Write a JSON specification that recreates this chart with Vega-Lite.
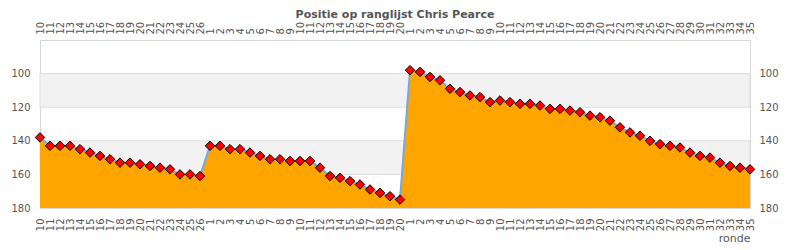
{
  "$schema": "https://vega.github.io/schema/vega-lite/v6.json",
  "width": 710,
  "height": 168,
  "autosize": "none",
  "padding": {"left": 40, "top": 40, "right": 40, "bottom": 42},
  "background": "white",
  "config": {
    "view": {"stroke": "#d8d8d8", "strokeWidth": 1},
    "font": "DejaVu Sans",
    "axis": {"labelFont": "DejaVu Sans", "labelColor": "#555555", "titleColor": "#555555", "domain": false, "ticks": false, "grid": false}
  },
  "title": {"text": "Positie op ranglijst Chris Pearce", "fontSize": 11, "fontWeight": "bold", "color": "#555555", "font": "DejaVu Sans", "offset": 1, "anchor": "middle"},
  "datasets": {
    "ranks": [
      {"key": "a10", "positie": 138}, {"key": "a11", "positie": 143}, {"key": "a12", "positie": 143}, {"key": "a13", "positie": 143},
      {"key": "a14", "positie": 145}, {"key": "a15", "positie": 147}, {"key": "a16", "positie": 149}, {"key": "a17", "positie": 151},
      {"key": "a18", "positie": 153}, {"key": "a19", "positie": 153}, {"key": "a20", "positie": 154}, {"key": "a21", "positie": 155},
      {"key": "a22", "positie": 156}, {"key": "a23", "positie": 157}, {"key": "a24", "positie": 160}, {"key": "a25", "positie": 160},
      {"key": "a26", "positie": 161},
      {"key": "b1", "positie": 143}, {"key": "b2", "positie": 143}, {"key": "b3", "positie": 145}, {"key": "b4", "positie": 145},
      {"key": "b5", "positie": 147}, {"key": "b6", "positie": 149}, {"key": "b7", "positie": 151}, {"key": "b8", "positie": 151},
      {"key": "b9", "positie": 152}, {"key": "b10", "positie": 152}, {"key": "b11", "positie": 152}, {"key": "b12", "positie": 156},
      {"key": "b13", "positie": 161}, {"key": "b14", "positie": 162}, {"key": "b15", "positie": 164}, {"key": "b16", "positie": 166},
      {"key": "b17", "positie": 169}, {"key": "b18", "positie": 171}, {"key": "b19", "positie": 173}, {"key": "b20", "positie": 175},
      {"key": "c1", "positie": 98}, {"key": "c2", "positie": 99}, {"key": "c3", "positie": 102}, {"key": "c4", "positie": 104},
      {"key": "c5", "positie": 109}, {"key": "c6", "positie": 111}, {"key": "c7", "positie": 113}, {"key": "c8", "positie": 114},
      {"key": "c9", "positie": 117}, {"key": "c10", "positie": 116}, {"key": "c11", "positie": 117}, {"key": "c12", "positie": 118},
      {"key": "c13", "positie": 118}, {"key": "c14", "positie": 119}, {"key": "c15", "positie": 121}, {"key": "c16", "positie": 121},
      {"key": "c17", "positie": 122}, {"key": "c18", "positie": 123}, {"key": "c19", "positie": 125}, {"key": "c20", "positie": 126},
      {"key": "c21", "positie": 128}, {"key": "c22", "positie": 132}, {"key": "c23", "positie": 135}, {"key": "c24", "positie": 137},
      {"key": "c25", "positie": 140}, {"key": "c26", "positie": 142}, {"key": "c27", "positie": 143}, {"key": "c28", "positie": 144},
      {"key": "c29", "positie": 147}, {"key": "c30", "positie": 149}, {"key": "c31", "positie": 150}, {"key": "c32", "positie": 153},
      {"key": "c33", "positie": 155}, {"key": "c34", "positie": 156}, {"key": "c35", "positie": 157}
    ],
    "bands": [{"van": 100, "tot": 120}, {"van": 140, "tot": 160}]
  },
  "resolve": {"axis": {"x": "independent", "y": "independent"}},
  "layer": [
    {
      "data": {"name": "bands"},
      "mark": {"type": "rect", "fill": "#f2f2f2", "stroke": "#dddddd", "strokeWidth": 1},
      "encoding": {
        "y": {"field": "van", "type": "quantitative", "scale": {"domain": [80, 180], "reverse": true, "nice": false, "zero": false},
              "axis": {"orient": "left", "values": [100, 120, 140, 160, 180], "labelFontSize": 10, "labelPadding": 10, "title": null}},
        "y2": {"field": "tot"}
      }
    },
    {
      "data": {"name": "ranks"},
      "mark": {"type": "area", "color": "#FFA500", "opacity": 1},
      "encoding": {
        "x": {"field": "key", "type": "ordinal", "sort": null, "scale": {"type": "point", "padding": 0},
              "axis": {"orient": "bottom", "labelAngle": -90, "labelFontSize": 10, "labelPadding": 10,
                       "labelExpr": "slice(datum.label, 1)", "title": "ronde", "titleFontSize": 11, "titleFontWeight": "normal",
                       "titleAnchor": "end", "titlePadding": 2}},
        "y": {"field": "positie", "type": "quantitative",
              "axis": {"orient": "right", "values": [100, 120, 140, 160, 180], "labelFontSize": 10, "labelPadding": 9, "title": null}},
        "y2": {"datum": 180}
      }
    },
    {
      "data": {"name": "ranks"},
      "mark": {"type": "line", "color": "#74a9e0", "strokeWidth": 2},
      "encoding": {
        "x": {"field": "key", "type": "ordinal", "sort": null,
              "axis": {"orient": "top", "labelAngle": -90, "labelFontSize": 10, "labelPadding": 6,
                       "labelExpr": "slice(datum.label, 1)", "title": null}},
        "y": {"field": "positie", "type": "quantitative", "axis": null}
      }
    },
    {
      "data": {"name": "ranks"},
      "mark": {"type": "point", "shape": "diamond", "filled": true, "fill": "#ff0000", "stroke": "#000000", "strokeWidth": 1, "size": 90, "opacity": 1},
      "encoding": {
        "x": {"field": "key", "type": "ordinal", "sort": null, "axis": null},
        "y": {"field": "positie", "type": "quantitative", "axis": null}
      }
    }
  ]
}
